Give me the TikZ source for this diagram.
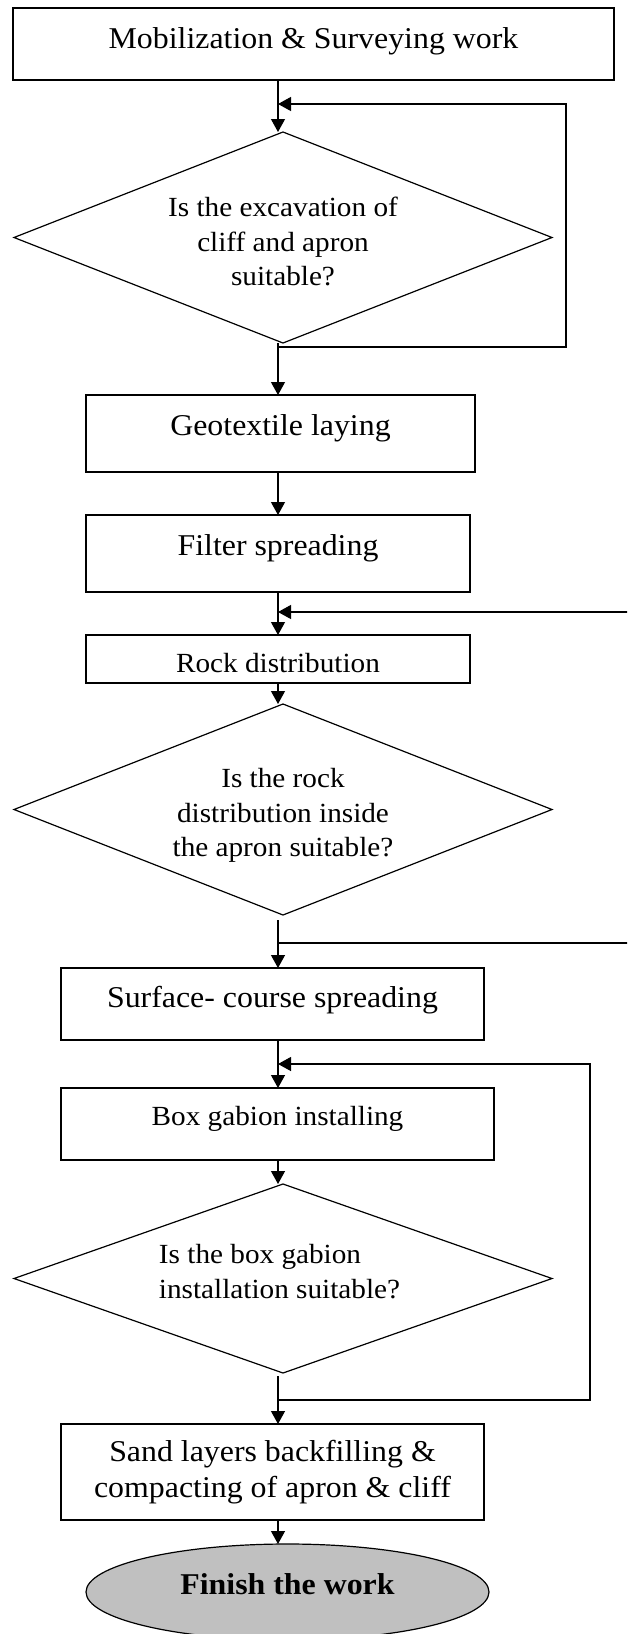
\documentclass[tikz,border=0pt]{standalone}
\usepackage{fontspec}
\setmainfont{Liberation Serif}[FakeStretch=1.055]
\usetikzlibrary{arrows.meta,shapes.geometric}

\definecolor{finishgray}{RGB}{192,192,192}
\newcommand\flowlarge{\fontsize{15.1}{17.85}\selectfont}
\newcommand\flowsmall{\fontsize{13.85}{17.2}\selectfont}

\tikzset{
  box/.style={draw, rectangle, line width=0.65pt, inner sep=0pt, outer sep=0pt,
              font=\flowlarge, align=center},
  decision/.style={draw, diamond, line width=0.6pt, inner sep=0pt, outer sep=0pt},
  qtext/.style={font=\flowsmall, align=center, inner sep=0pt, outer sep=0pt},
  finish/.style={draw, ellipse, fill=finishgray, line width=0.6pt, inner sep=0pt,
                 outer sep=0pt, font=\flowlarge\bfseries},
  line/.style={line width=0.6pt},
  conn/.style={line, -{Triangle[length=6.5pt,width=7pt]}},
}

\begin{document}
\begin{tikzpicture}[x=0.5pt, y=-0.5pt]
  % page frame (627 x 1634 units)
  \fill[white] (0,0) rectangle (627,1634);
  \path[use as bounding box] (0,0) rectangle (627,1634);
  \clip (0,0) rectangle (627,1634);

  % main flow axis
  \coordinate (spine) at (278,0);

  % process steps and decisions
  \node[box, minimum width=300.5pt, minimum height=36pt, text height=10pt, text depth=5.7pt]
    (start) at (313.5,44) {Mobilization \& Surveying work};

  \node[decision, minimum width=269pt, minimum height=105.5pt] (d1) at (283,237.5) {};
  \node[qtext] (d1t) at ([yshift=-2pt]d1.center)
    {Is the excavation of\\cliff and apron\\suitable?};

  \node[box, minimum width=194.5pt, minimum height=38.5pt, text height=10pt, text depth=8pt]
    (geo) at (280.5,433.5) {Geotextile laying};

  \node[box, minimum width=192pt, minimum height=38.5pt, text height=10pt, text depth=8.5pt]
    (filter) at (278,553.5) {Filter spreading};

  \node[box, font=\flowsmall, minimum width=192pt, minimum height=24pt, text height=14pt, text depth=0.84pt]
    (rock) at (278,659) {Rock distribution};

  \node[decision, minimum width=269pt, minimum height=105.5pt] (d2) at (283,809.5) {};
  \node[qtext] (d2t) at ([yshift=-3pt]d2.center)
    {Is the rock\\distribution inside\\the apron suitable?};

  \node[box, minimum width=211.5pt, minimum height=36pt, text height=10pt, text depth=6.5pt]
    (surface) at (272.5,1004) {Surface- course spreading};

  \node[box, font=\flowsmall, minimum width=216.5pt, minimum height=36pt, text height=10pt, text depth=9pt]
    (gabion) at (277.5,1124) {Box gabion installing};

  \node[decision, minimum width=269pt, minimum height=94.5pt] (d3) at (283,1278.5) {};
  \node[qtext, align=left, font=\fontsize{13.85}{17.5}\selectfont] (d3t)
    at ([xshift=-1.75pt,yshift=3.4pt]d3.center)
    {Is the box gabion\\installation suitable?};

  \node[box, minimum width=211.5pt, minimum height=48pt] (sand) at (272.5,1472)
    {Sand layers backfilling \&\\compacting of apron \& cliff};

  \node[finish, minimum width=201.5pt, minimum height=48pt, text height=10pt, text depth=8pt]
    (end) at (287.5,1592) {Finish the work};

  % forward connectors along the axis
  \draw[conn] (start.south -| spine) -- (d1.north -| spine);
  \draw[conn] (d1.south -| spine) -- (geo.north -| spine);
  \draw[conn] (geo.south -| spine) -- (filter.north -| spine);
  \draw[conn] (filter.south -| spine) -- (rock.north -| spine);
  \draw[conn] (rock.south -| spine) -- (d2.north -| spine);
  \draw[conn] ([yshift=-2.5pt]d2.south -| spine) -- (surface.north -| spine);
  \draw[conn] (surface.south -| spine) -- (gabion.north -| spine);
  \draw[conn] (gabion.south -| spine) -- (d3.north -| spine);
  \draw[conn] ([yshift=-1.5pt]d3.south -| spine) -- (sand.north -| spine);
  \draw[conn] (sand.south -| spine) -- (end.north -| spine);

  % feedback loops
  \coordinate (j1) at (278,347);  \coordinate (k1) at (566,104);
  \draw[conn] (j1) -| (k1) -- (k1 -| spine);

  \coordinate (j2) at (278,943);  \coordinate (k2) at (680,612);
  \draw[conn] (j2) -| (k2) -- (k2 -| spine);

  \coordinate (j3) at (278,1400); \coordinate (k3) at (590,1064);
  \draw[conn] (j3) -| (k3) -- (k3 -| spine);
\end{tikzpicture}
\end{document}
